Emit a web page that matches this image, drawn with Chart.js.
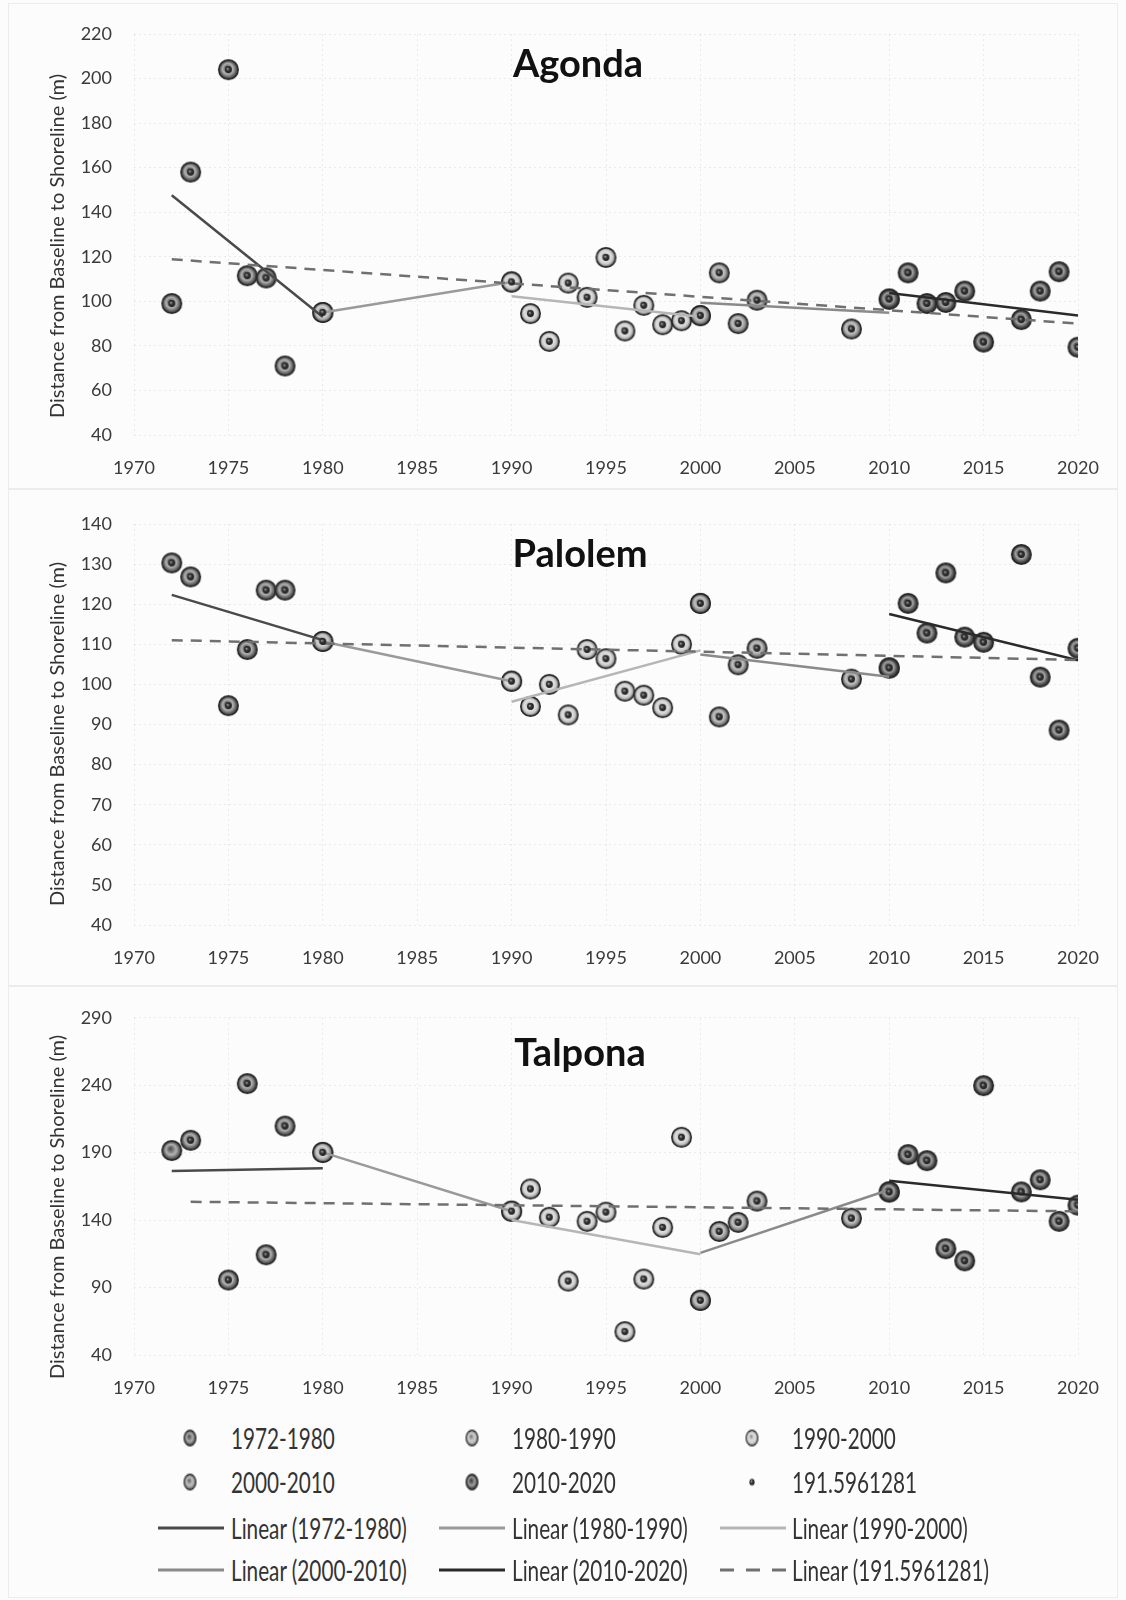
<!DOCTYPE html>
<html>
<head>
<meta charset="utf-8">
<script src="https://cdn.jsdelivr.net/npm/chart.js@4.4.1/dist/chart.umd.min.js"></script>
<style>
  html, body { margin: 0; padding: 0; background: #fcfcfc; }
  #page { position: relative; width: 1126px; height: 1600px; overflow: hidden; font-family: Lato, "Open Sans", sans-serif; }
  canvas.panel { position: absolute; left: 0; }
  .frame { position: absolute; border: 1px solid #ececec; box-sizing: border-box; }
  .leg { position: absolute; height: 32px; }
  .leg .txt { position: absolute; top: 50%; transform: translateY(-50%) scaleX(0.74); transform-origin: left center;
              font-size: 28px; color: #333; white-space: nowrap; line-height: 32px; }
  .leg canvas { position: absolute; }
</style>
</head>
<body>
<div id="page">
  <div class="frame" style="left:8px;top:3px;width:1110px;height:486px"></div>
  <div class="frame" style="left:8px;top:489px;width:1110px;height:497px"></div>
  <div class="frame" style="left:8px;top:986px;width:1110px;height:612px"></div>
  <canvas class="panel" id="agonda" width="1126" height="488" style="top:0"></canvas>
  <canvas class="panel" id="palolem" width="1126" height="497" style="top:488px"></canvas>
  <canvas class="panel" id="talpona" width="1126" height="415" style="top:985px"></canvas>
  <div id="legend"></div>
</div>
<script>
// Survey years shared by the three beaches
const years = [1972, 1973, 1975, 1976, 1977, 1978, 1980,
  1990, 1991, 1992, 1993, 1994, 1995, 1996, 1997, 1998, 1999, 2000,
  2001, 2002, 2003, 2008, 2010, 2011, 2012, 2013, 2014, 2015,
  2017, 2018, 2019, 2020];

// Distance from baseline to shoreline (m)
const agonda = [99, 158, 204, 111.5, 110.5, 71, 95,
  108.7, 94.5, 82, 108.2, 101.8, 119.7, 86.7, 98.2, 89.5, 91.3, 93.6,
  112.8, 90, 100.5, 87.6, 101, 112.8, 99, 99.5, 104.6, 81.7,
  91.8, 104.6, 113.3, 79.4];
const palolem = [130.3, 126.8, 94.7, 108.7, 123.5, 123.5, 110.7,
  100.8, 94.5, 100, 92.4, 108.7, 106.4, 98.3, 97.3, 94.2, 110, 120.2,
  91.9, 104.9, 109, 101.3, 104.1, 120.2, 112.8, 127.8, 111.8, 110.5,
  132.4, 101.8, 88.6, 109];
const talpona = [191.5961281, 199.2, 95.6, 241.2, 114.3, 209.7, 190.2,
  146.6, 163.1, 142.1, 94.8, 139.1, 145.9, 57.3, 96.3, 134.6, 201.4, 80.5,
  131.6, 138.3, 154.1, 141.4, 160.9, 188.6, 184.1, 118.8, 109.8, 239.7,
  160.9, 169.9, 139.1, 151.1];

// Decadal groups (end years shared with the next group)
const periodStart = [1972, 1980, 1990, 2000, 2010];
const periodEnd = [1980, 1990, 2000, 2010, 2020];
const periodLabels = ['1972-1980', '1980-1990', '1990-2000', '2000-2010', '2010-2020'];
const allLabel = '191.5961281';
const allStart = { Agonda: 1972, Palolem: 1972, Talpona: 1973 };

// Tick labels
const xTicks = [1970, 1975, 1980, 1985, 1990, 1995, 2000, 2005, 2010, 2015, 2020];
const agondaTicks = [40, 60, 80, 100, 120, 140, 160, 180, 200, 220];
const palolemTicks = [40, 50, 60, 70, 80, 90, 100, 110, 120, 130, 140];
const talponaTicks = [40, 90, 140, 190, 240, 290];

// ---- styling ----
const markerBase = ['#747474', '#ababab', '#c6c6c6', '#939393', '#5c5c5c'];
const lineColors = ['#4a4a4a', '#9a9a9a', '#b6b6b6', '#8a8a8a', '#2a2a2a'];
const dashColor = '#707070';

function shade(hex, f) {
  const n = parseInt(hex.slice(1), 16);
  let r = n >> 16, g = (n >> 8) & 255, b = n & 255;
  const t = f < 0 ? 0 : 255, p = Math.abs(f);
  r = Math.round((t - r) * p + r); g = Math.round((t - g) * p + g); b = Math.round((t - b) * p + b);
  return 'rgb(' + r + ',' + g + ',' + b + ')';
}

// glossy ball used as the point marker
function sphere(base, r) {
  const s = Math.ceil(r * 2 + 2);
  const c = document.createElement('canvas');
  c.width = c.height = s;
  const g = c.getContext('2d');
  const m = s / 2;
  g.fillStyle = '#262626';
  g.beginPath(); g.arc(m, m, r, 0, Math.PI * 2); g.fill();
  const gr = g.createRadialGradient(m - r * 0.15, m - r * 0.2, r * 0.05, m, m, r * 0.86);
  gr.addColorStop(0, shade(base, -0.3));
  gr.addColorStop(0.3, shade(base, 0.1));
  gr.addColorStop(0.55, shade(base, 0.45));
  gr.addColorStop(0.8, base);
  gr.addColorStop(1, shade(base, -0.5));
  g.fillStyle = gr;
  g.beginPath(); g.arc(m, m, r * 0.86, 0, Math.PI * 2); g.fill();
  return c;
}

function dot(r) {
  const s = Math.ceil(r * 2 + 2);
  const c = document.createElement('canvas');
  c.width = c.height = s;
  const g = c.getContext('2d');
  const m = s / 2;
  const gr = g.createRadialGradient(m - r * 0.3, m - r * 0.3, 0.2, m, m, r);
  gr.addColorStop(0, '#a0a0a0');
  gr.addColorStop(0.45, '#383838');
  gr.addColorStop(1, '#1a1a1a');
  g.fillStyle = gr;
  g.beginPath(); g.arc(m, m, r, 0, Math.PI * 2); g.fill();
  return c;
}

const markerImgs = markerBase.map(b => sphere(b, 10.5));
const dotImg = dot(3.4);

// least-squares trend over a group of points, spanning its first to last year
function linearFit(pts) {
  const n = pts.length;
  let sx = 0, sy = 0;
  pts.forEach(p => { sx += p.x; sy += p.y; });
  const mx = sx / n, my = sy / n;
  let sxx = 0, sxy = 0;
  pts.forEach(p => { sxx += (p.x - mx) ** 2; sxy += (p.x - mx) * (p.y - my); });
  const k = sxy / sxx;
  const x0 = pts[0].x, x1 = pts[n - 1].x;
  return [{ x: x0, y: my + k * (x0 - mx) }, { x: x1, y: my + k * (x1 - mx) }];
}

const panelText = {
  id: 'panelText',
  afterDraw(chart, args, o) {
    const ctx = chart.ctx;
    ctx.save();
    ctx.textAlign = 'center';
    ctx.textBaseline = 'middle';
    ctx.fillStyle = '#111';
    ctx.font = 'bold 38px Lato, sans-serif';
    ctx.fillText(o.title, o.titleX, o.titleY);
    ctx.translate(o.axisX, o.axisY);
    ctx.rotate(-Math.PI / 2);
    ctx.fillStyle = '#333';
    ctx.font = '20px Lato, sans-serif';
    ctx.fillText(o.axisTitle, 0, 0);
    ctx.restore();
  }
};

Chart.defaults.font.family = 'Lato, sans-serif';
Chart.defaults.font.size = 18;
Chart.defaults.color = '#3a3a3a';

function buildChart(id, name, values, yTicks, lay) {
  const pts = years.map((yr, i) => ({ x: yr, y: values[i] }));
  const datasets = [];
  periodLabels.forEach((lab, k) => {
    const sub = pts.filter(p => p.x >= periodStart[k] && p.x <= periodEnd[k]);
    datasets.push({
      label: lab, data: sub, pointStyle: markerImgs[k], pointRadius: 10.5,
      showLine: false, order: 20 - k
    });
    datasets.push({
      label: 'Linear (' + lab + ')', data: linearFit(sub), showLine: true,
      borderColor: lineColors[k], borderWidth: 2.5, pointRadius: 0, order: 6
    });
  });
  const all = pts.filter(p => p.x >= allStart[name]);
  datasets.push({ label: allLabel, data: all, pointStyle: dotImg, pointRadius: 3.4, showLine: false, order: 0 });
  datasets.push({
    label: 'Linear (' + allLabel + ')', data: linearFit(all), showLine: true,
    borderColor: dashColor, borderDash: [11, 8], borderWidth: 2.5, pointRadius: 0, order: 5
  });

  return new Chart(document.getElementById(id), {
    type: 'scatter',
    data: { datasets },
    options: {
      responsive: false,
      animation: false,
      devicePixelRatio: 1,
      layout: { padding: { left: 0, right: 48, top: lay.top, bottom: lay.bottom } },
      plugins: {
        legend: { display: false },
        tooltip: { enabled: false },
        panelText: { title: name, titleX: lay.titleX, titleY: lay.titleY,
          axisTitle: 'Distance from Baseline to Shoreline (m)', axisX: 58, axisY: lay.axisY }
      },
      scales: {
        x: {
          type: 'linear', min: xTicks[0], max: xTicks[xTicks.length - 1],
          afterBuildTicks: s => { s.ticks = xTicks.map(v => ({ value: v })); },
          afterFit: s => { s.height = 45; },
          ticks: { padding: 22, callback: v => String(v) },
          grid: { color: 'rgba(0,0,0,0.07)', drawTicks: false },
          border: { display: false, dash: [2, 3] }
        },
        y: {
          min: yTicks[0], max: yTicks[yTicks.length - 1],
          afterBuildTicks: s => { s.ticks = yTicks.map(v => ({ value: v })); },
          afterFit: s => { s.width = 134; },
          ticks: { padding: 22, callback: v => String(v) },
          grid: { color: 'rgba(0,0,0,0.07)', drawTicks: false },
          border: { display: false, dash: [2, 3] }
        }
      }
    },
    plugins: [panelText]
  });
}

buildChart('agonda', 'Agonda', agonda, agondaTicks,
  { top: 34, bottom: 8, titleX: 578, titleY: 65, axisY: 246 });
buildChart('palolem', 'Palolem', palolem, palolemTicks,
  { top: 36, bottom: 15, titleX: 580, titleY: 67, axisY: 246 });
buildChart('talpona', 'Talpona', talpona, talponaTicks,
  { top: 31, bottom: 0, titleX: 580, titleY: 69, axisY: 222 });

// ---- shared legend ----
const legendRows = [1438, 1482, 1528, 1570];
const legendIconX = [190, 472, 752];
const legendLineX = [158, 439, 720];
const legendTextX = [231, 512, 792];
const legendItems = [];
periodLabels.forEach((lab, k) => legendItems.push({ text: lab, kind: 'marker', k }));
legendItems.push({ text: allLabel, kind: 'dot' });
periodLabels.forEach((lab, k) => legendItems.push({ text: 'Linear (' + lab + ')', kind: 'line', k }));
legendItems.push({ text: 'Linear (' + allLabel + ')', kind: 'dash' });

const legend = document.getElementById('legend');
legendItems.forEach((it, i) => {
  const row = Math.floor(i / 3), col = i % 3;
  const box = document.createElement('div');
  box.className = 'leg';
  box.style.left = '0px';
  box.style.top = (legendRows[row] - 16) + 'px';
  box.style.width = '1126px';
  const c = document.createElement('canvas');
  if (it.kind === 'marker' || it.kind === 'dot') {
    c.width = 18; c.height = 22;
    const g = c.getContext('2d');
    g.translate(9, 11); g.scale(1, 1.3);
    const img = it.kind === 'marker' ? sphere(markerBase[it.k], 6.5) : dot(2.6);
    g.drawImage(img, -img.width / 2, -img.height / 2);
    c.style.left = (legendIconX[col] - 9) + 'px';
    c.style.top = '5px';
  } else {
    c.width = 66; c.height = 8;
    const g = c.getContext('2d');
    g.lineWidth = 3;
    g.strokeStyle = it.kind === 'line' ? lineColors[it.k] : dashColor;
    if (it.kind === 'dash') g.setLineDash([14, 12]);
    g.beginPath(); g.moveTo(0, 4); g.lineTo(66, 4); g.stroke();
    c.style.left = legendLineX[col] + 'px';
    c.style.top = '12px';
  }
  box.appendChild(c);
  const t = document.createElement('div');
  t.className = 'txt';
  t.style.left = legendTextX[col] + 'px';
  t.textContent = it.text;
  box.appendChild(t);
  legend.appendChild(box);
});
</script>
</body>
</html>
